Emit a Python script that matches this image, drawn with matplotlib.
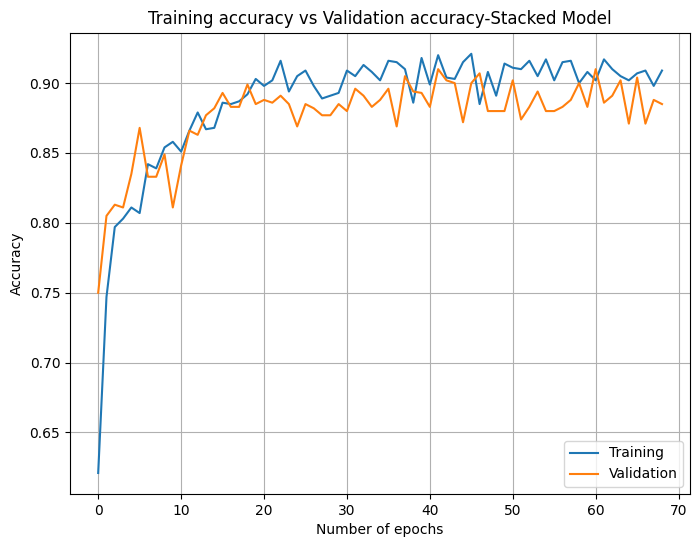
import matplotlib
matplotlib.use('Agg')
import matplotlib.pyplot as plt

# accuracy per epoch
training_acc = [
    0.621, 0.747, 0.797, 0.803, 0.811, 0.807, 0.842, 0.839, 0.854, 0.858,
    0.851, 0.866, 0.879, 0.867, 0.868, 0.886, 0.885, 0.887, 0.892, 0.903,
    0.898, 0.902, 0.916, 0.894, 0.905, 0.909, 0.898, 0.889, 0.891, 0.893,
    0.909, 0.905, 0.913, 0.908, 0.902, 0.916, 0.915, 0.910, 0.886, 0.918,
    0.899, 0.920, 0.904, 0.903, 0.915, 0.921, 0.885, 0.908, 0.891, 0.914,
    0.911, 0.910, 0.916, 0.905, 0.917, 0.902, 0.915, 0.916, 0.900, 0.908,
    0.902, 0.917, 0.910, 0.905, 0.902, 0.907, 0.909, 0.898, 0.909]
validation_acc = [
    0.750, 0.805, 0.813, 0.811, 0.835, 0.868, 0.833, 0.833, 0.849, 0.811,
    0.841, 0.866, 0.863, 0.877, 0.882, 0.893, 0.883, 0.883, 0.899, 0.885,
    0.888, 0.886, 0.891, 0.885, 0.869, 0.885, 0.882, 0.877, 0.877, 0.885,
    0.880, 0.896, 0.891, 0.883, 0.888, 0.896, 0.869, 0.905, 0.894, 0.893,
    0.883, 0.910, 0.902, 0.900, 0.872, 0.900, 0.907, 0.880, 0.880, 0.880,
    0.902, 0.874, 0.883, 0.894, 0.880, 0.880, 0.883, 0.888, 0.900, 0.883,
    0.910, 0.886, 0.891, 0.902, 0.871, 0.904, 0.871, 0.888, 0.885]
epochs = list(range(len(training_acc)))

fig = plt.figure(figsize=(7, 5.47), dpi=100)
ax = fig.add_axes([0.1, 0.097, 0.886, 0.843])
ax.plot(epochs, training_acc, label='Training')
ax.plot(epochs, validation_acc, label='Validation')
ax.set_title('Training accuracy vs Validation accuracy-Stacked Model')
ax.set_xlabel('Number of epochs')
ax.set_ylabel('Accuracy')
ax.grid(True)
ax.legend(loc='lower right')
fig.savefig('out.png')
